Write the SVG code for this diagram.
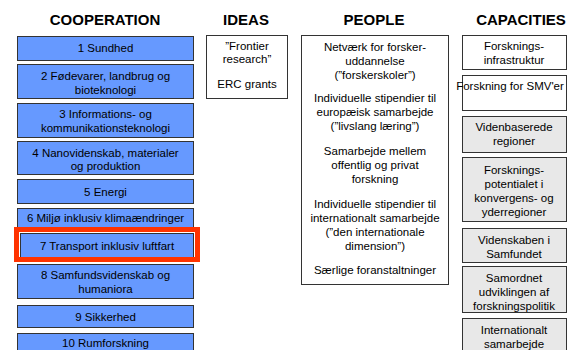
<svg xmlns="http://www.w3.org/2000/svg" width="567" height="350" viewBox="0 0 567 350">
<style>
text{font-family:"Liberation Sans",Arial,sans-serif;fill:#000}
.t{font-size:15px;font-weight:bold;text-anchor:middle}
.b{font-size:11.5px;text-anchor:middle}
.blue{fill:#6699FF;stroke:#333;stroke-width:1}
.w{fill:#fff;stroke:#333;stroke-width:1}
.g{fill:#E8E8E8;stroke:#333;stroke-width:1}
.hl{fill:none;stroke:#FF3300;stroke-width:5}
</style>
<rect width="567" height="350" fill="#fff"/>
<g id="titles">
<text class="t" x="105" y="25">COOPERATION</text>
<text class="t" x="246" y="25">IDEAS</text>
<text class="t" x="374" y="25">PEOPLE</text>
<text class="t" x="521" y="25">CAPACITIES</text>
</g>
<g id="coop1"><rect class="blue" x="17.5" y="36.5" width="176" height="24"/><text class="b" x="105.5" y="52">1 Sundhed</text></g>
<g id="coop2"><rect class="blue" x="17.5" y="64.5" width="176" height="34"/><text class="b" x="105.5" y="80">2 Fødevarer, landbrug og</text><text class="b" x="105.5" y="94">bioteknologi</text></g>
<g id="coop3"><rect class="blue" x="17.5" y="103.5" width="176" height="34"/><text class="b" x="105.5" y="118">3 Informations- og</text><text class="b" x="105.5" y="132">kommunikationsteknologi</text></g>
<g id="coop4"><rect class="blue" x="17.5" y="141.5" width="176" height="33"/><text class="b" x="105.5" y="157">4 Nanovidenskab, materialer</text><text class="b" x="105.5" y="170">og produktion</text></g>
<g id="coop5"><rect class="blue" x="17.5" y="179.5" width="176" height="24"/><text class="b" x="105.5" y="196">5 Energi</text></g>
<g id="coop6"><rect class="blue" x="17.5" y="208.5" width="176" height="19"/><text class="b" x="105.5" y="222">6 Miljø inklusiv klimaændringer</text></g>
<g id="coop7"><rect class="blue" x="20.5" y="233.5" width="173" height="24"/><text class="b" x="107" y="250">7 Transport inklusiv luftfart</text><rect class="hl" x="16.5" y="229.5" width="181" height="30"/></g>
<g id="coop8"><rect class="blue" x="17.5" y="264.5" width="176" height="34"/><text class="b" x="105.5" y="279">8 Samfundsvidenskab og</text><text class="b" x="105.5" y="293">humaniora</text></g>
<g id="coop9"><rect class="blue" x="17.5" y="305.5" width="176" height="22"/><text class="b" x="105.5" y="321">9 Sikkerhed</text></g>
<g id="coop10"><rect class="blue" x="17.5" y="333.5" width="176" height="22"/><text class="b" x="105.5" y="347">10 Rumforskning</text></g>
<g id="ideas"><rect class="w" x="206.5" y="35.5" width="81" height="63"/><text class="b" x="247" y="50">”Frontier</text><text class="b" x="247" y="63">research”</text><text class="b" x="247" y="88">ERC grants</text></g>
<g id="people"><rect class="w" x="301.5" y="35.5" width="147" height="249"/>
<text class="b" x="375" y="51">Netværk for forsker-</text><text class="b" x="375" y="65">uddannelse</text><text class="b" x="375" y="79">(”forskerskoler”)</text>
<text class="b" x="375" y="102">Individuelle stipendier til</text><text class="b" x="375" y="116">europæisk samarbejde</text><text class="b" x="375" y="130">(”livslang læring”)</text>
<text class="b" x="375" y="155">Samarbejde mellem</text><text class="b" x="375" y="169">offentlig og privat</text><text class="b" x="375" y="183">forskning</text>
<text class="b" x="375" y="208">Individuelle stipendier til</text><text class="b" x="375" y="222">internationalt samarbejde</text><text class="b" x="375" y="236">(”den internationale</text><text class="b" x="375" y="250">dimension”)</text>
<text class="b" x="375" y="274">Særlige foranstaltninger</text></g>
<g id="cap1"><rect class="w" x="462.5" y="35.5" width="104" height="34"/><text class="b" x="514" y="50">Forsknings-</text><text class="b" x="514" y="64">infrastruktur</text></g>
<g id="cap2"><rect class="w" x="462.5" y="75.5" width="104" height="35"/><text class="b" x="510" y="90">Forskning for SMV'er</text></g>
<g id="cap3"><rect class="g" x="462.5" y="116.5" width="104" height="36"/><text class="b" x="514" y="131">Videnbaserede</text><text class="b" x="514" y="145">regioner</text></g>
<g id="cap4"><rect class="g" x="462.5" y="157.5" width="104" height="64"/><text class="b" x="514" y="174">Forsknings-</text><text class="b" x="514" y="188">potentialet i</text><text class="b" x="514" y="202">konvergens- og</text><text class="b" x="514" y="216">yderregioner</text></g>
<g id="cap5"><rect class="g" x="462.5" y="228.5" width="104" height="34"/><text class="b" x="514" y="244">Videnskaben i</text><text class="b" x="514" y="258">Samfundet</text></g>
<g id="cap6"><rect class="g" x="462.5" y="266.5" width="104" height="46"/><text class="b" x="514" y="282">Samordnet</text><text class="b" x="514" y="296">udviklingen af</text><text class="b" x="514" y="310">forskningspolitik</text></g>
<g id="cap7"><rect class="g" x="462.5" y="318.5" width="104" height="40"/><text class="b" x="514" y="334">Internationalt</text><text class="b" x="514" y="348">samarbejde</text></g>
<g id="connectors"/>
</svg>
